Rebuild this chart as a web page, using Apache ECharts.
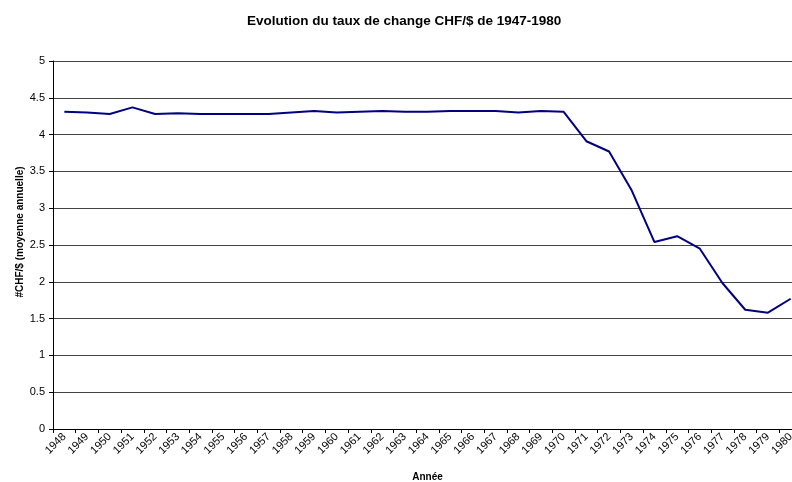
<!DOCTYPE html>
<html lang="fr">
<head>
    <meta charset="UTF-8">
    <title>Evolution du taux de change CHF/$</title>
    <script type="text/javascript" src="https://cdn.jsdelivr.net/npm/echarts@6/dist/echarts.min.js"></script>
    <style>
        html, body { margin: 0; padding: 0; background: #fff; }
        #main { width: 792px; height: 482px; }
    </style>
</head>
<body>
<div id="main"></div>
<script type="text/javascript">
    // années (axe horizontal)
    var annees = ['1948','1949','1950','1951','1952','1953','1954','1955','1956','1957',
        '1958','1959','1960','1961','1962','1963','1964','1965','1966','1967',
        '1968','1969','1970','1971','1972','1973','1974','1975','1976','1977',
        '1978','1979','1980'];
    // CHF par dollar, moyenne annuelle
    var taux = [4.31, 4.30, 4.28, 4.37, 4.28, 4.29, 4.28, 4.28, 4.28, 4.28,
        4.30, 4.32, 4.30, 4.31, 4.32, 4.31, 4.31, 4.32, 4.32, 4.32,
        4.30, 4.32, 4.31, 3.91, 3.77, 3.24, 2.54, 2.62, 2.45, 1.98,
        1.62, 1.58, 1.77];

    var police = 'Liberation Sans, Arial, sans-serif';

    var option = {
        backgroundColor: '#fff',
        animation: false,
        title: {
            text: 'Evolution du taux de change CHF/$ de 1947-1980',
            left: 242,
            top: 9,
            textStyle: { fontFamily: police, fontSize: 13.5, fontWeight: 'bold', color: '#000' }
        },
        grid: {
            left: 53,
            right: -10,
            top: 61,
            bottom: 53,
            outerBoundsMode: 'none',
            containLabel: false
        },
        xAxis: {
            type: 'category',
            data: annees,
            boundaryGap: true,
            name: 'Année',
            nameLocation: 'middle',
            nameGap: 43,
            nameMoveOverlap: false,
            nameTextStyle: { fontFamily: police, fontSize: 10, fontWeight: 'bold', color: '#000' },
            axisLine: { lineStyle: { color: '#000', width: 1 } },
            axisTick: { show: true, length: 4, lineStyle: { color: '#000' } },
            axisLabel: { rotate: 45, interval: 0, fontFamily: police, fontSize: 11, color: '#000', margin: 6 }
        },
        yAxis: {
            type: 'value',
            min: 0,
            max: 5,
            interval: 0.5,
            name: '#CHF/$ (moyenne annuelle)',
            nameLocation: 'middle',
            nameRotate: 90,
            nameGap: 28,
            nameMoveOverlap: false,
            nameTextStyle: { fontFamily: police, fontSize: 10, fontWeight: 'bold', color: '#000', padding: [0, 0, 0, 26] },
            axisLine: { show: true, lineStyle: { color: '#000', width: 1 } },
            axisTick: { show: true, length: 4, lineStyle: { color: '#000' } },
            axisLabel: { fontFamily: police, fontSize: 11, color: '#000', margin: 8 },
            splitLine: { show: true, lineStyle: { color: '#444', width: 1 } }
        },
        series: [{
            name: 'CHF/$',
            type: 'line',
            data: taux,
            showSymbol: false,
            lineStyle: { color: '#000080', width: 2 },
            itemStyle: { color: '#000080' }
        }]
    };

    var myChart = echarts.init(document.getElementById('main'));
    myChart.setOption(option);
</script>
</body>
</html>
